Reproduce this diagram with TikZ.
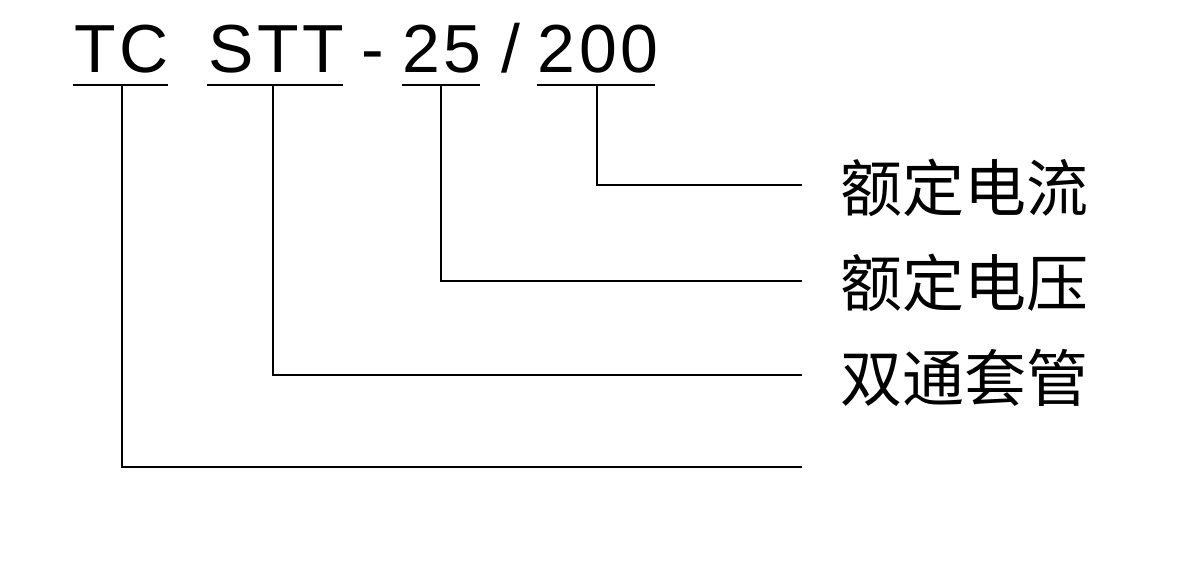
\documentclass[tikz,border=0pt]{standalone}
\usepackage{fontspec}
\setmainfont{Liberation Sans}
\newfontfamily\codefont[LetterSpace=5]{Liberation Sans}
\newfontfamily\cjk{Noto Sans CJK SC}
\usetikzlibrary{positioning}

\begin{document}
\begin{tikzpicture}
[x=1pt,y=-1pt
,code/.style={inner sep=0pt,anchor=base,font=\codefont\fontsize{68}{68}\selectfont}
,lbl/.style={inner sep=0pt,anchor=west,font=\cjk\fontsize{62}{62}\selectfont}
,ul/.style={draw=black,line width=2pt}
,ln/.style={draw=black,line width=2pt}]
\useasboundingbox (0,0) rectangle (1200,575);
% model code
\node[code] (tc) at (122,73) {TC};
\node[code] (stt) at (276,73) {STT};
\node[code] (dash) at (373,73) {-};
\node[code] (volt) at (442,73) {25};
\node[code] (slash) at (511,73) {/};
\node[code] (amp) at (598,73) {200};
% underlines
\coordinate (tcl) at (73,85); \coordinate (tcr) at (168,85); \coordinate (tcm) at (122,85);
\coordinate (sttl) at (207,85); \coordinate (sttr) at (343,85); \coordinate (sttm) at (273,85);
\coordinate (voltl) at (402,85); \coordinate (voltr) at (480,85); \coordinate (voltm) at (441,85);
\coordinate (ampl) at (537,85); \coordinate (ampr) at (655,85); \coordinate (ampm) at (597,85);
\draw[ul] (tcl) -- (tcr);
\draw[ul] (sttl) -- (sttr);
\draw[ul] (voltl) -- (voltr);
\draw[ul] (ampl) -- (ampr);
% line ends and labels
\coordinate (ramp) at (802,185);
\coordinate (rvolt) at (802,281);
\coordinate (rstt) at (802,375);
\coordinate (rtc) at (802,467);
\node[lbl,right=38pt of ramp,yshift=-3pt] (lamp) {额定电流};
\node[lbl,right=38pt of rvolt,yshift=-2pt] (lvolt) {额定电压};
\node[lbl,right=38pt of rstt,yshift=-3pt] (lstt) {双通套管};
\draw[ln] (ampm) |- (ramp);
\draw[ln] (voltm) |- (rvolt);
\draw[ln] (sttm) |- (rstt);
\draw[ln] (tcm) |- (rtc);
\end{tikzpicture}
\end{document}
